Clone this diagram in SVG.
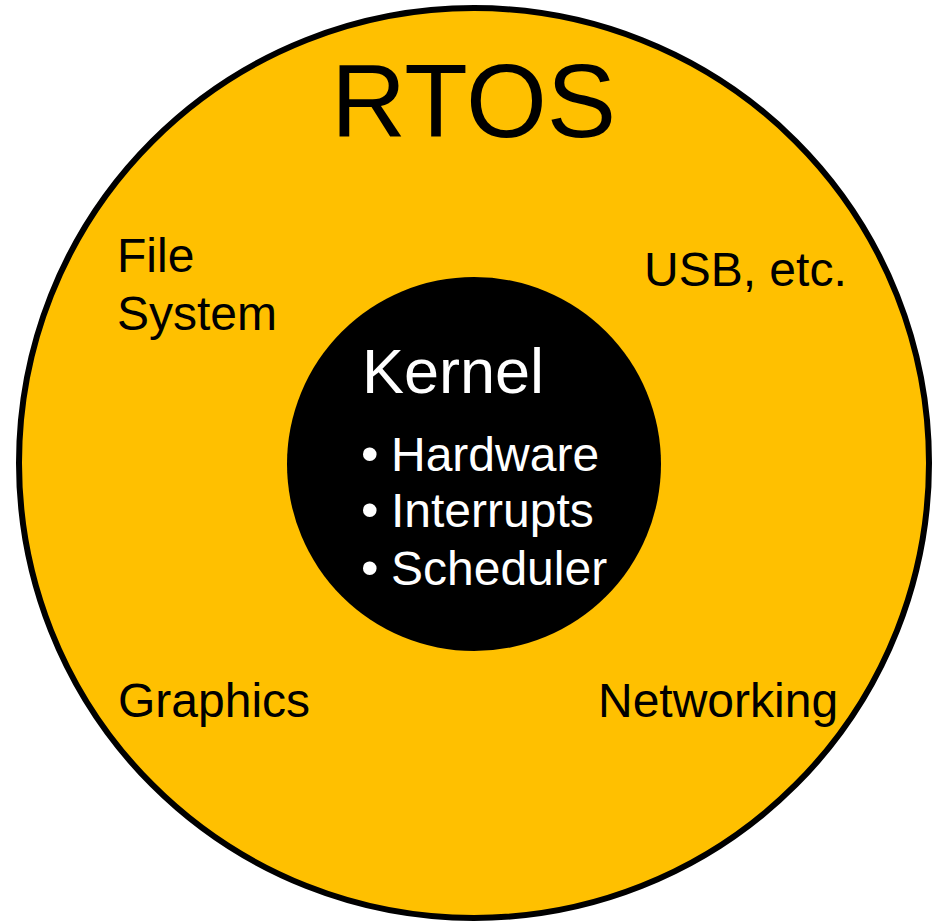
<svg xmlns="http://www.w3.org/2000/svg" width="934" height="921" viewBox="0 0 934 921">
  <style>
    text { font-family: "Liberation Sans", Arial, sans-serif; }
    .lbl { font-size: 48px; fill: #000; }
    .klbl { font-size: 48px; fill: #fff; }
    .bul { font-size: 50px; }
  </style>
  <rect width="934" height="921" fill="#fff"/>
  <g id="rtos">
    <circle cx="474" cy="463" r="455" fill="#FFC000" stroke="#000" stroke-width="6"/>
    <text x="331" y="137" style="font-size:104px">RTOS</text>
  </g>
  <g id="file-system">
    <text class="lbl" x="117" y="272">File</text>
    <text class="lbl" x="117" y="330">System</text>
  </g>
  <g id="usb">
    <text class="lbl" x="644" y="286">USB, etc.</text>
  </g>
  <g id="graphics">
    <text class="lbl" x="118" y="717">Graphics</text>
  </g>
  <g id="networking">
    <text class="lbl" x="598" y="717">Networking</text>
  </g>
  <g id="kernel">
    <circle cx="474" cy="464" r="187" fill="#000"/>
    <text x="362" y="393" style="font-size:63px" fill="#fff">Kernel</text>
    <text class="klbl" y="471"><tspan class="bul" x="361">•</tspan><tspan x="391">Hardware</tspan></text>
    <text class="klbl" y="527"><tspan class="bul" x="361">•</tspan><tspan x="391">Interrupts</tspan></text>
    <text class="klbl" y="585"><tspan class="bul" x="361">•</tspan><tspan x="391">Scheduler</tspan></text>
  </g>
  <g id="connectors"></g>
</svg>
